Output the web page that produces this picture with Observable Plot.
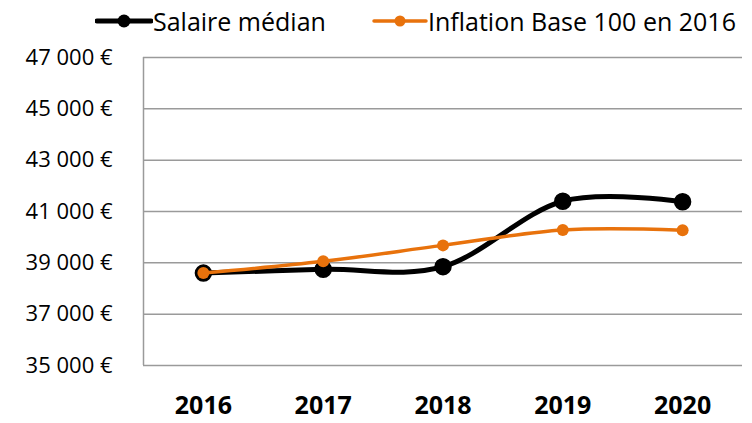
<!DOCTYPE html>
<html><head><meta charset="utf-8">
<script src="https://cdn.jsdelivr.net/npm/d3@7"></script>
<script src="https://cdn.jsdelivr.net/npm/@observablehq/plot@0.6"></script>
<style>
body{margin:0;background:#fff;font-family:"Open Sans",sans-serif;}
#wrap{position:relative;width:752px;height:423px;}
#legend{position:absolute;top:2px;left:0;width:752px;height:38px;font-size:25px;color:#000;}
.item{position:absolute;top:0;display:flex;align-items:center;height:38px;white-space:nowrap;}
</style></head><body>
<div id="wrap"><div id="legend"></div><div id="chart"></div></div>
<script>
const years = [2016, 2017, 2018, 2019, 2020];
const salaire = [38600, 38750, 38850, 41400, 41380];
const inflation = [38600, 39060, 39680, 40280, 40270];
const yTicks = [35000, 37000, 39000, 41000, 43000, 45000, 47000];
const yLabels = ["35 000 €", "37 000 €", "39 000 €", "41 000 €", "43 000 €", "45 000 €", "47 000 €"];
const seriesNames = ["Salaire médian", "Inflation Base 100 en 2016"];
const colors = ["#000000", "#E8720C"];

const sal = years.map((y, i) => ({year: y, value: salaire[i]}));
const inf = years.map((y, i) => ({year: y, value: inflation[i]}));

const chart = Plot.plot({
  width: 752, height: 423,
  marginTop: 57, marginBottom: 58, marginLeft: 143, marginRight: 10,
  style: {fontFamily: "Open Sans, sans-serif", background: "white"},
  x: {domain: [2015.5, 2020.5]},
  y: {domain: [35000, 47000]},
  marks: [
    Plot.ruleY(yTicks, {stroke: "#9a9a9a", strokeWidth: 1.5}),
    Plot.ruleX([2015.5], {stroke: "#9a9a9a", strokeWidth: 1.5}),
    Plot.axisY({ticks: yTicks, tickSize: 0, tickPadding: 31, fontSize: 22, fill: "#000",
      tickFormat: d => yLabels[yTicks.indexOf(d)], label: null}),
    Plot.axisX({ticks: years, tickSize: 0, tickPadding: 31, fontSize: 25, fontWeight: "bold", fill: "#000",
      tickFormat: d => String(d), label: null}),
    Plot.line(sal, {x: "year", y: "value", stroke: colors[0], strokeWidth: 5, curve: "cardinal", tension: 0}),
    Plot.dot(sal, {x: "year", y: "value", r: 8, fill: colors[0], stroke: colors[0]}),
    Plot.line(inf, {x: "year", y: "value", stroke: colors[1], strokeWidth: 3.5, curve: "cardinal", tension: 0}),
    Plot.dot(inf, {x: "year", y: "value", r: 6, fill: colors[1]})
  ]
});
document.getElementById("chart").appendChild(chart);

const legend = document.getElementById("legend");
const pos = [{sw: 95, tx: 153}, {sw: 372, tx: 428}];
seriesNames.forEach((n, i) => {
  const sw = document.createElement("div");
  sw.className = "item";
  sw.style.left = pos[i].sw + "px";
  const w = pos[i].tx - pos[i].sw;
  const lw = i === 0 ? 5 : 3.5, r = i === 0 ? 6.5 : 5.5;
  sw.innerHTML = `<svg width="${w}" height="38"><line x1="2" x2="${w-2}" y1="19" y2="19" stroke="${colors[i]}" stroke-width="${lw}" stroke-linecap="round"/><circle cx="${w/2}" cy="19" r="${r}" fill="${colors[i]}"/></svg>`;
  legend.appendChild(sw);
  const t = document.createElement("div");
  t.className = "item";
  t.style.left = pos[i].tx + "px";
  t.textContent = n;
  legend.appendChild(t);
});
</script>
</body></html>
